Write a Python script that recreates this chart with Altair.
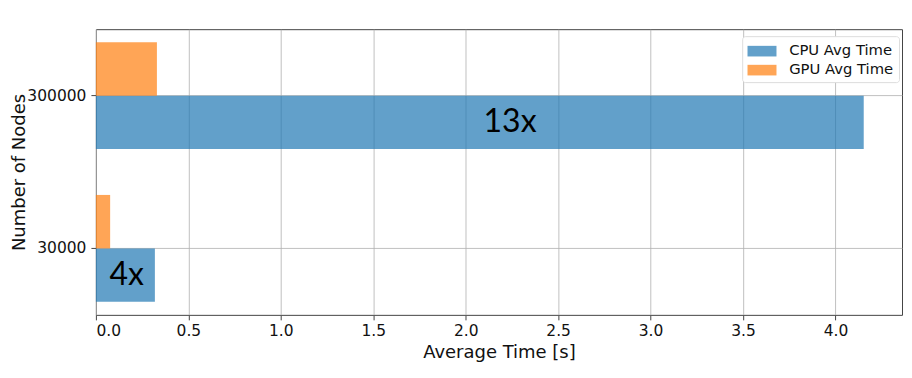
import altair as alt
import pandas as pd

nodes = ["300000", "30000"]
cpu_time = [4.153, 0.319]
gpu_time = [0.330, 0.077]
speedup_text = ["13x", "4x"]
speedup_x = [2.24, 0.167]
series = ["CPU Avg Time", "GPU Avg Time"]
x_ticks = [0.0, 0.5, 1.0, 1.5, 2.0, 2.5, 3.0, 3.5, 4.0]

rows = []
for n, c, g in zip(nodes, cpu_time, gpu_time):
    rows.append({"nodes": n, "series": series[0], "time": c})
    rows.append({"nodes": n, "series": series[1], "time": g})
bars_df = pd.DataFrame(rows)
text_df = pd.DataFrame({"nodes": nodes, "series": series[0], "time": speedup_x, "label": speedup_text})

FONT = "DejaVu Sans"

y_enc = alt.Y(
    "nodes:N",
    sort=nodes,
    scale=alt.Scale(paddingInner=0.3, paddingOuter=0.085),
    axis=alt.Axis(
        title="Number of Nodes",
        bandPosition=0.5,
        labelPadding=5,
        titleX=-71,
        titleBaseline="alphabetic",
    ),
)
yoff_enc = alt.YOffset(
    "series:N",
    sort=[series[1], series[0]],
    scale=alt.Scale(domain=[series[1], series[0]], paddingInner=0, paddingOuter=0),
)

x_enc = alt.X(
    "time:Q",
    scale=alt.Scale(domain=[0, 4.36], nice=False, zero=True),
    axis=alt.Axis(
        title="Average Time [s]",
        values=x_ticks,
        format=".1f",
        labelPadding=4,
        titleY=43,
        titleBaseline="alphabetic",
    ),
)

bars = alt.Chart(bars_df).mark_bar(opacity=0.7).encode(
    x=x_enc,
    y=y_enc,
    yOffset=yoff_enc,
    color=alt.Color(
        "series:N",
        scale=alt.Scale(domain=series, range=["#1f77b4", "#ff7f0e"]),
        legend=alt.Legend(
            title=None,
            orient="none",
            legendX=647,
            legendY=7,
            symbolType="M-1,-0.55H2V0.55H-1Z",
            symbolSize=374,
            symbolOpacity=0.7,
            symbolStrokeWidth=0,
            labelOffset=22,
            rowPadding=2,
            padding=5,
            fillColor="white",
            strokeColor="#dddddd",
            cornerRadius=3,
        ),
    ),
)

texts = alt.Chart(text_df).mark_text(
    font="Lato", fontSize=32, color="black", align="center", baseline="middle"
).encode(
    x=alt.X("time:Q"),
    y=alt.Y("nodes:N", sort=nodes),
    yOffset=alt.YOffset("series:N", sort=[series[1], series[0]]),
    text="label:N",
)

chart = (
    alt.layer(bars, texts)
    .properties(
        width=807,
        height=286,
        background="white",
        autosize=alt.AutoSizeParams(type="none"),
        padding={"left": 88, "top": 21, "right": 2, "bottom": 55},
    )
    .configure_view(stroke="#444", strokeWidth=1)
    .configure_axis(
        grid=True,
        gridColor="#b0b0b0",
        gridWidth=0.8,
        tickSize=5,
        tickColor="#444",
        labelFontSize=15.5,
        labelFont=FONT,
        labelColor="#111",
        titleFontSize=18,
        titleFont=FONT,
        titleFontWeight="normal",
        titleColor="#111",
        domain=False,
    )
    .configure_legend(
        labelFont=FONT,
        labelFontSize=14.8,
        labelColor="#111",
    )
)

chart.save("out.html", embed_options={"renderer": "svg", "actions": False})
